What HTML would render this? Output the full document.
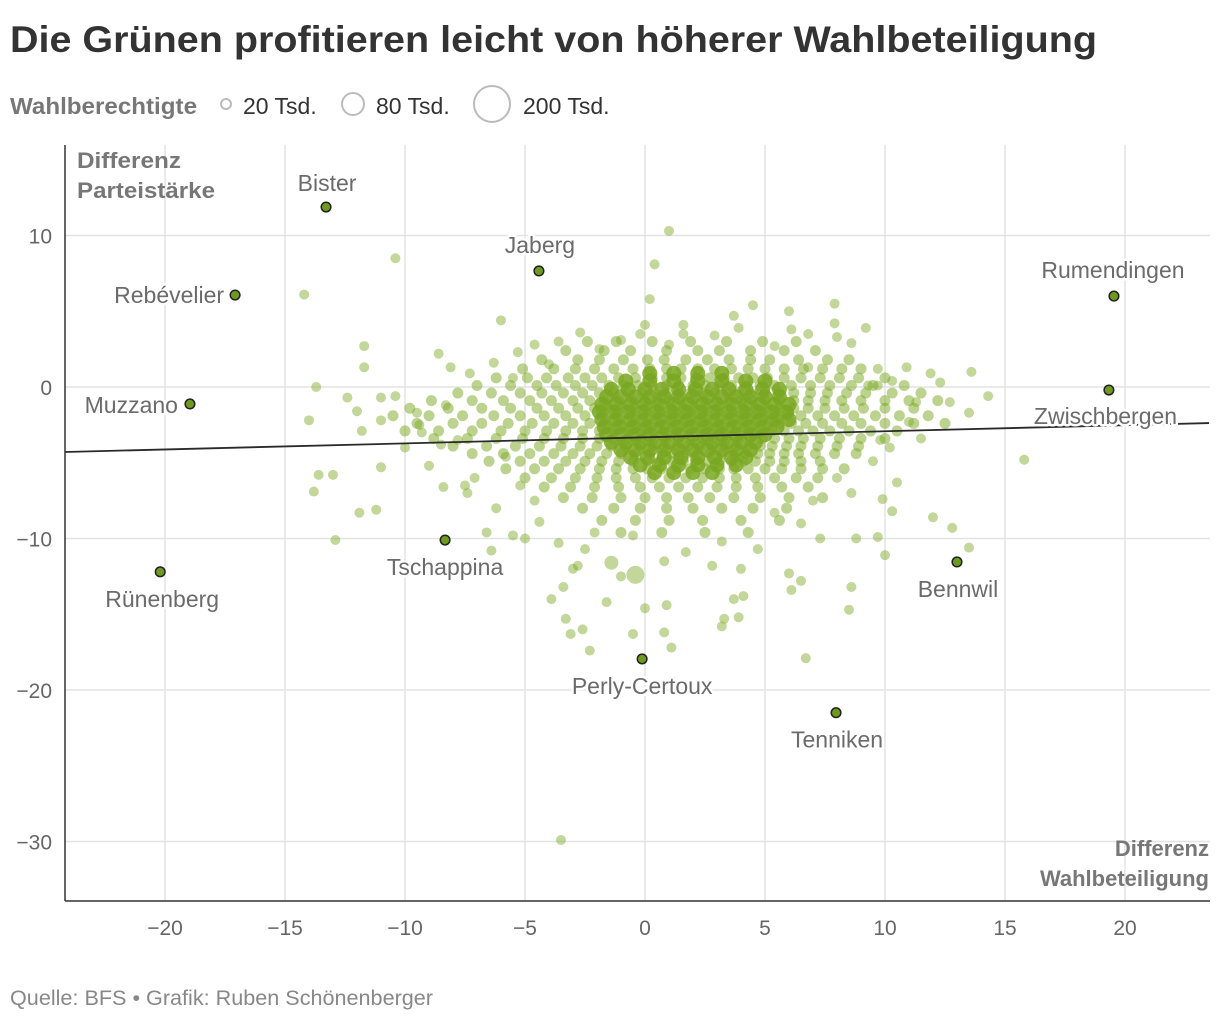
<!DOCTYPE html>
<html><head><meta charset="utf-8">
<style>
body{margin:0;background:#fff;width:1220px;height:1022px;overflow:hidden;font-family:"Liberation Sans",sans-serif}
svg{display:block}
</style></head>
<body>
<svg id="chart" width="1220" height="1022">
<text x="10" y="52" font-size="37" font-weight="bold" fill="#333" textLength="1087" lengthAdjust="spacingAndGlyphs">Die Grünen profitieren leicht von höherer Wahlbeteiligung</text>
<g>
<text x="10" y="114" font-size="23" font-weight="bold" fill="#777" textLength="187" lengthAdjust="spacingAndGlyphs">Wahlberechtigte</text>
<circle cx="226" cy="104" r="5" fill="none" stroke="#bbb" stroke-width="2"/>
<text x="243" y="114" font-size="23" fill="#333">20 Tsd.</text>
<circle cx="353" cy="104" r="11" fill="none" stroke="#bbb" stroke-width="2"/>
<text x="376" y="114" font-size="23" fill="#333">80 Tsd.</text>
<circle cx="492" cy="104" r="18" fill="none" stroke="#bbb" stroke-width="2"/>
<text x="523" y="114" font-size="23" fill="#333">200 Tsd.</text>
</g>
<g id="grid"></g>
<g id="dots"></g>
<g id="reg"></g>
<g id="lab"></g>
<g id="axes"></g>
<text x="10" y="1005" font-size="21" fill="#888" textLength="423" lengthAdjust="spacingAndGlyphs">Quelle: BFS • Grafik: Ruben Schönenberger</text>
</svg>
<script>
const xTicks=[-20,-15,-10,-5,0,5,10,15,20];
const yTicks=[10,0,-10,-20,-30];
const regression=[[-24.17,-4.29],[23.5,-2.38]];
const labeledNames=["Bister","Jaberg","Rebévelier","Rumendingen","Muzzano","Zwischbergen","Tschappina","Rünenberg","Bennwil","Perly-Certoux","Tenniken"];
const labeledX=[-13.29,-4.42,-17.08,19.54,-18.96,19.33,-8.33,-20.2,13.0,-0.12,7.96];
const labeledY=[11.88,7.66,6.07,6.0,-1.12,-0.2,-10.1,-12.2,-11.55,-17.95,-21.5];
const bigX=[-0.4,-1.4];
const bigY=[-12.4,-11.6];
const bigVoters=[50000,30000];
const scatterPoints=[[-10.4,8.5],[-14.2,6.1],[1.0,10.3],[0.4,8.1],[0.2,5.8],[-2.7,3.6],[-6.0,4.4],[-11.7,2.7],[-8.6,2.2],[-5.3,2.3],[-6.3,1.6],[-3.6,3.0],[-12.4,-0.7],[-13.7,0.0],[-12.0,-1.6],[-11.0,-0.7],[-11.0,-2.2],[-10.4,-0.6],[-11.8,-2.9],[-14.0,-2.2],[-9.5,-1.7],[-8.1,1.3],[-7.3,0.9],[-11.7,1.3],[-13.0,-5.8],[-13.6,-5.8],[-13.8,-6.9],[-11.9,-8.3],[-11.2,-8.1],[-12.9,-10.1],[-11.0,-5.3],[-9.0,-5.2],[-8.4,-6.6],[-7.5,-6.5],[-7.4,-7.0],[-6.2,-8.0],[-6.6,-9.6],[-6.4,-10.8],[-5.5,-9.8],[-5.8,-4.6],[-5.0,-10.0],[-3.4,-13.2],[-3.9,-14.0],[-3.3,-15.3],[-3.1,-16.3],[-2.6,-16.0],[-2.3,-17.4],[-1.6,-14.2],[-0.5,-16.3],[0.0,-14.6],[0.8,-16.2],[1.1,-17.2],[0.9,-14.4],[0.8,-11.5],[-1.0,-12.5],[-2.8,-11.8],[-3.0,-12.0],[-3.5,-29.9],[3.2,-15.8],[3.3,-15.3],[3.7,-14.0],[3.9,-15.2],[4.1,-13.8],[4.0,-12.0],[6.0,-12.3],[6.1,-13.4],[6.5,-12.8],[6.7,-17.9],[8.5,-14.7],[8.6,-13.2],[10.0,-11.1],[9.7,-9.9],[8.8,-10.0],[12.0,-8.6],[12.8,-9.3],[13.5,-10.6],[15.8,-4.8],[13.5,-1.7],[14.3,-0.6],[13.6,1.0],[12.7,-1.0],[12.3,0.3],[11.9,0.9],[10.5,-6.3],[10.3,-8.2],[9.9,-7.4],[9.5,-4.9],[9.7,0.1],[9.7,1.2],[9.3,0.1],[9.8,-3.5],[8.6,2.9],[9.2,3.9],[7.9,5.5],[7.9,4.2],[8.0,3.3],[6.8,1.3],[6.8,3.5],[6.0,5.0],[6.1,3.8],[5.4,2.7],[4.5,5.4],[3.9,3.9],[3.7,4.7],[2.9,3.4],[1.6,3.5],[1.6,4.1],[1.0,2.8],[0.0,4.1],[-0.2,3.5],[-1.0,3.1],[-1.9,2.5],[-4.6,2.8],[-4.0,1.5],[-5.5,0.6],[-8.3,-1.2],[-9.3,-3.0],[-7.8,-3.5],[-8.5,-3.8],[-7.1,-6.0],[-5.2,-6.5],[-4.6,-7.5],[-4.4,-8.9],[-3.6,-10.3],[-2.5,-10.7],[-2.1,-9.6],[-0.5,-9.8],[1.7,-10.9],[2.8,-11.8],[3.2,-10.2],[4.7,-10.7],[5.4,-8.3],[6.5,-9.0],[7.3,-10.0],[7.0,-7.5],[8.0,-6.0],[8.6,-7.0],[11.0,-2.3],[11.3,-1.0],[10.9,1.3],[10.3,0.4],[11.5,-3.4],[10.2,-4.0],[-10.0,-4.0],[-9.4,-2.5]];
const rowY=[3.0,2.4,1.8,1.2,0.6,0.1,-0.4,-0.9,-1.4,-1.9,-2.4,-2.9,-3.4,-3.9,-4.4,-4.9,-5.4,-6.0,-6.6,-7.3,-8.0,-8.8,-9.6];
const rowX=[
[-2.4,-1.2,0.3,1.9,3.4,4.9,6.3],
[-3.3,-1.7,-0.6,0.9,2.2,3.1,4.4,5.8,7.1],
[-4.3,-2.8,-1.9,-0.9,0.1,0.8,1.7,2.6,3.5,4.4,5.2,6.4,7.6,8.5],
[-5.1,-3.8,-2.9,-2.1,-1.3,-0.5,0.2,0.9,1.5,2.2,2.9,3.6,4.3,5.0,5.8,6.6,7.4,8.2,9.0],
[-6.2,-4.9,-4.1,-3.2,-2.5,-1.8,-1.1,-0.4,0.3,0.9,1.5,2.1,2.7,3.3,3.9,4.5,5.1,5.8,6.5,7.3,8.1,8.9,10.0],
[-7.0,-5.6,-4.5,-3.7,-2.9,-2.2,-1.5,-0.9,-0.3,0.3,0.9,1.4,2.0,2.5,3.1,3.6,4.2,4.8,5.4,6.1,6.9,7.7,8.6,9.5,10.8],
[-7.8,-6.4,-5.2,-4.3,-3.4,-2.6,-1.9,-1.3,-0.7,-0.1,0.4,0.9,1.4,1.9,2.4,2.9,3.4,3.9,4.4,5.0,5.6,6.2,6.9,7.6,8.4,9.2,10.3,11.5],
[-8.9,-7.2,-5.9,-4.8,-3.9,-3.0,-2.3,-1.7,-1.1,-0.5,0.0,0.5,1.0,1.5,2.0,2.5,3.0,3.5,4.0,4.5,5.0,5.6,6.2,6.8,7.5,8.2,9.0,10.0,11.0,12.2],
[-9.8,-8.2,-6.8,-5.6,-4.5,-3.6,-2.8,-2.1,-1.5,-0.9,-0.4,0.1,0.6,1.1,1.6,2.1,2.6,3.1,3.6,4.1,4.6,5.1,5.6,6.2,6.8,7.5,8.3,9.1,10.0,11.2],
[-10.5,-9.0,-7.6,-6.3,-5.2,-4.2,-3.3,-2.5,-1.8,-1.2,-0.6,-0.1,0.4,0.9,1.4,1.9,2.4,2.9,3.4,3.9,4.4,4.9,5.4,5.9,6.5,7.2,7.9,8.7,9.6,10.6,11.8],
[-9.5,-8.0,-6.8,-5.7,-4.7,-3.8,-3.0,-2.3,-1.6,-1.0,-0.4,0.1,0.6,1.1,1.6,2.1,2.6,3.1,3.6,4.1,4.6,5.1,5.6,6.1,6.7,7.4,8.2,9.0,10.0,11.2,12.5],
[-10.0,-8.6,-7.2,-6.0,-5.0,-4.1,-3.3,-2.6,-1.9,-1.3,-0.7,-0.2,0.3,0.8,1.3,1.8,2.3,2.8,3.3,3.8,4.3,4.8,5.3,5.8,6.4,7.0,7.7,8.5,9.4,10.5],
[-8.8,-7.4,-6.2,-5.1,-4.2,-3.4,-2.6,-1.9,-1.3,-0.7,-0.1,0.4,0.9,1.4,1.9,2.4,2.9,3.4,3.9,4.4,4.9,5.4,6.0,6.6,7.3,8.1,9.0,10.0],
[-8.0,-6.6,-5.4,-4.4,-3.5,-2.7,-2.0,-1.4,-0.8,-0.2,0.3,0.8,1.3,1.8,2.3,2.8,3.3,3.8,4.3,4.8,5.3,5.9,6.5,7.2,8.0,8.9],
[-7.2,-5.9,-4.8,-3.8,-3.0,-2.3,-1.6,-1.0,-0.4,0.2,0.7,1.2,1.7,2.2,2.7,3.2,3.7,4.2,4.7,5.2,5.8,6.4,7.1,7.9,8.8],
[-6.5,-5.2,-4.2,-3.3,-2.5,-1.8,-1.1,-0.5,0.1,0.6,1.1,1.6,2.1,2.6,3.1,3.6,4.1,4.6,5.2,5.8,6.5,7.3],
[-5.8,-4.6,-3.6,-2.7,-1.9,-1.2,-0.5,0.1,0.7,1.3,1.9,2.5,3.1,3.7,4.3,5.0,5.7,6.5,7.4,8.3],
[-5.0,-3.9,-2.9,-2.0,-1.2,-0.4,0.3,1.0,1.7,2.4,3.1,3.8,4.6,5.4,6.3,7.2],
[-4.2,-3.1,-2.1,-1.1,-0.2,0.6,1.4,2.2,3.0,3.8,4.7,5.7,6.8],
[-3.4,-2.2,-1.0,0.0,0.9,1.8,2.7,3.7,4.8,6.0,7.4],
[-2.6,-1.3,-0.2,0.9,2.0,3.2,4.5,5.9],
[-1.8,-0.4,1.0,2.4,4.0,5.6],
[-1.0,0.7,2.5,4.3]];
const coreY=[0.9,0.4,-0.15,-0.65,-1.15,-1.65,-2.15,-2.65,-3.15,-3.65,-4.15,-4.65,-5.15,-5.65];
const coreX=[
[0.2,1.2,2.2,3.2],
[-0.8,0.2,1.2,2.2,3.2,4.2,5.0],
[-1.4,-0.7,0.0,0.7,1.4,2.1,2.8,3.5,4.2,4.9,5.6],
[-1.6,-1.0,-0.4,0.2,0.8,1.4,2.0,2.6,3.2,3.8,4.4,5.0,5.6],
[-1.8,-1.2,-0.6,0.0,0.6,1.2,1.8,2.4,3.0,3.6,4.2,4.8,5.4,6.0],
[-1.9,-1.3,-0.7,-0.1,0.5,1.1,1.7,2.3,2.9,3.5,4.1,4.7,5.3,5.9],
[-1.8,-1.2,-0.6,0.0,0.6,1.2,1.8,2.4,3.0,3.6,4.2,4.8,5.4,6.0],
[-1.7,-1.1,-0.5,0.1,0.7,1.3,1.9,2.5,3.1,3.7,4.3,4.9,5.5],
[-1.6,-1.0,-0.4,0.2,0.8,1.4,2.0,2.6,3.2,3.8,4.4,5.0],
[-1.4,-0.8,-0.2,0.4,1.0,1.6,2.2,2.8,3.4,4.0,4.6],
[-1.0,-0.4,0.2,0.8,1.4,2.0,2.6,3.2,3.8,4.4],
[-0.6,0.1,0.8,1.5,2.2,2.9,3.6,4.2],
[-0.2,0.6,1.4,2.2,3.0,3.8],
[0.4,1.2,2.0,2.8]];

const NS="http://www.w3.org/2000/svg";
const L=65,R=1210,T=145,B=901;
const X=v=>645+v*24;
const Y=v=>387-v*15.15;
function mk(tag,attrs,parent){const e=document.createElementNS(NS,tag);for(const k in attrs)e.setAttribute(k,attrs[k]);parent.appendChild(e);return e;}
const grid=document.getElementById('grid'),dots=document.getElementById('dots'),reg=document.getElementById('reg'),lab=document.getElementById('lab'),axes=document.getElementById('axes');
xTicks.forEach(t=>{
 const g=mk('line',{x1:X(t),x2:X(t),y1:T,y2:B,stroke:'#e3e3e3','stroke-width':1.5},grid);
 
 
 const tx=mk('text',{x:X(t),y:935,'text-anchor':'middle','font-size':21,fill:'#666'},axes);
 tx.textContent=(t<0?'\u2212'+(-t):t);
 
 
});
yTicks.forEach(t=>{
 const g=mk('line',{x1:L,x2:R,y1:Y(t),y2:Y(t),stroke:'#e3e3e3','stroke-width':1.5},grid);
 
 
 const tx=mk('text',{x:52,y:Y(t)+8,'text-anchor':'end','font-size':21,fill:'#666'},axes);
 tx.textContent=(t<0?'\u2212'+(-t):t);
 
 
});
const ya=mk('line',{x1:L,x2:L,y1:T,y2:B,stroke:'#333','stroke-width':1.5},axes);


const xa=mk('line',{x1:L,x2:R,y1:B,y2:B,stroke:'#333','stroke-width':1.5},axes);


const yt=mk('text',{x:77,y:168,'font-size':22,'font-weight':'bold',fill:'#777'},axes);
yt.innerHTML='<tspan x="77" textLength="104" lengthAdjust="spacingAndGlyphs">Differenz</tspan><tspan x="77" dy="30" textLength="138" lengthAdjust="spacingAndGlyphs">Parteistärke</tspan>';


const xt=mk('text',{x:1209,y:856,'font-size':22,'font-weight':'bold',fill:'#777','text-anchor':'end'},axes);
xt.innerHTML='<tspan x="1209">Differenz</tspan><tspan x="1209" dy="30">Wahlbeteiligung</tspan>';



function dot(x,y,r,op){
 const c=mk('circle',{cx:X(x),cy:Y(y),r:r,fill:'#79a720','fill-opacity':op},dots);
 
 
}
scatterPoints.forEach(p=>dot(p[0],p[1],5,0.45));
rowY.forEach((y,i)=>rowX[i].forEach(x=>dot(x,y,5.5,0.5)));
coreY.forEach((y,i)=>coreX[i].forEach(x=>dot(x,y,7.5,0.85)));
bigX.forEach((x,i)=>dot(x,bigY[i],18*Math.sqrt(bigVoters[i]/200000),0.45));

const rl=mk('line',{x1:X(regression[0][0]),y1:Y(regression[0][1]),x2:X(regression[1][0]),y2:Y(regression[1][1]),stroke:'#2a2a2a','stroke-width':1.8},reg);



const labDx=[1,1,-11,-1,-12,-75,0,2,1,0,1];
const labDy=[-16,-18,8,-18,9,34,35,35,35,35,35];
const labAnchor=['middle','middle','end','middle','end','start','middle','middle','middle','middle','middle'];
labeledNames.forEach((n,i)=>{
 const px=X(labeledX[i]),py=Y(labeledY[i]);
 const c=mk('circle',{cx:px,cy:py,r:4.8,fill:'#6e9a1f',stroke:'#222','stroke-width':1.5},lab);
 
 
 const t=mk('text',{x:px+labDx[i],y:py+labDy[i],'text-anchor':labAnchor[i],'font-size':23,fill:'#6b6b6b',stroke:'#fff','stroke-width':5,'paint-order':'stroke','stroke-linejoin':'round'},lab);
 t.textContent=n;
 
 
});
</script>
</body></html>
